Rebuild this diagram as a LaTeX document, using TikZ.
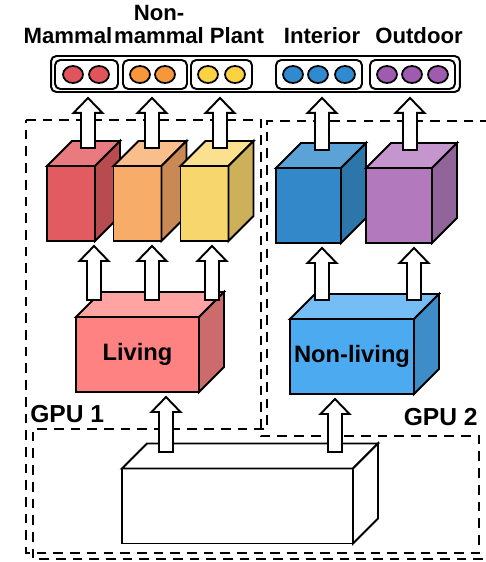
\documentclass[tikz,border=0pt]{standalone}
\usepackage{fontspec}
\setmainfont{Liberation Sans}
\usepackage{tikz}
\usetikzlibrary{calc}
\definecolor{mamfront}{HTML}{E25B61}
\definecolor{mamtop}{HTML}{E97A80}
\definecolor{mamside}{HTML}{B84B50}
\definecolor{nmfront}{HTML}{F7AC6A}
\definecolor{nmtop}{HTML}{F9BE8B}
\definecolor{nmside}{HTML}{C98955}
\definecolor{plfront}{HTML}{F8D66E}
\definecolor{pltop}{HTML}{FAE08F}
\definecolor{plside}{HTML}{CCB05A}
\definecolor{infront}{HTML}{3288C8}
\definecolor{intop}{HTML}{5BA3D6}
\definecolor{inside}{HTML}{2D76AA}
\definecolor{odfront}{HTML}{B279BC}
\definecolor{odtop}{HTML}{C595CD}
\definecolor{odside}{HTML}{91659A}
\definecolor{livfront}{HTML}{FF8282}
\definecolor{livtop}{HTML}{FFA3A3}
\definecolor{livside}{HTML}{CC6B6B}
\definecolor{nlfront}{HTML}{4BAAF0}
\definecolor{nltop}{HTML}{74BEF5}
\definecolor{nlside}{HTML}{3E8CC8}
\definecolor{dotred}{HTML}{E0545B}
\definecolor{dotorange}{HTML}{F7963A}
\definecolor{dotyellow}{HTML}{FDD240}
\definecolor{dotblue}{HTML}{2F8AD0}
\definecolor{dotpurple}{HTML}{9E5BB0}
\tikzset{
    face/.style={draw=black, line width=1.1pt},
    front/.style={face, rectangle, outer sep=0pt, inner sep=0pt, minimum height=1.5cm,
        font=\fontsize{13.5}{15}\selectfont\bfseries},
    blockarr/.style={draw=black, fill=white, line width=1.1pt},
    gpuline/.style={line width=1.1pt, dash pattern=on 5.5pt off 4pt},
    labelbox/.style={draw=black, line width=1.1pt, rounded corners=3pt, inner sep=0pt, minimum height=0.72cm},
    groupbox/.style={draw=black, line width=1.1pt, rounded corners=3pt, inner sep=0pt, minimum height=0.58cm},
    toplabel/.style={anchor=base, inner sep=0pt, font=\fontsize{12.6}{13}\selectfont\bfseries},
    gpulabel/.style={inner sep=0pt, font=\fontsize{14}{16}\selectfont\bfseries}
}
% top and side of a box whose front face is a node
\newcommand{\prism}[3]{%
    \draw[face, fill=#2] (#1.north west) -- ++(25,-25) -- ([shift={(25,-25)}]#1.north east) -- (#1.north east) -- cycle;
    \draw[face, fill=#3] (#1.north east) -- ++(25,-25) -- ([shift={(25,-25)}]#1.south east) -- (#1.south east) -- cycle;}
% hollow block arrow from a coordinate up to a node
\newcommand{\blockup}[2]{%
    \draw[blockarr] let \p1=(#1), \p2=(#2) in
    (\x1-0.14cm,\y1) -- (\x1-0.14cm,\y2-0.4cm) -- (\x1-0.29cm,\y2-0.4cm) -- (\x1,\y2-0.1cm)
    -- (\x1+0.29cm,\y2-0.4cm) -- (\x1+0.14cm,\y2-0.4cm) -- (\x1+0.14cm,\y1) -- cycle;}

\begin{document}
\begin{tikzpicture}[x=0.02cm,y=-0.02cm]
    \useasboundingbox (0,0) rectangle (485,562);
    % GPU regions
    \draw[gpuline] (26,120) -- (261,120) -- (261,436) -- (479,436) -- (479,553) -- (26,553) -- cycle;
    \draw[gpuline] (490,121) -- (267,121) -- (267,429) -- (33,429) -- (33,559) -- (490,559);
    \node[gpulabel, anchor=base west] at (30,422) (9c1e02aa) {GPU 1};
    \node[gpulabel, anchor=base east] at (478,425) (9c1e02ab) {GPU 2};

    % outputs
    \node[labelbox, minimum width=8.18cm] at (255.5,74) (a31f7c04) {};
    \node[groupbox, minimum width=1.26cm] at (86.5,74.5) (b0e25d11) {};
    \node[groupbox, minimum width=1.28cm] at (155,74.5) (b0e25d12) {};
    \node[groupbox, minimum width=1.22cm] at (221.5,74.5) (b0e25d13) {};
    \node[groupbox, minimum width=1.72cm] at (319,74.5) (b0e25d14) {};
    \node[groupbox, minimum width=1.70cm] at (412.5,74.5) (b0e25d15) {};
    \foreach \cx/\col in {73/dotred,99/dotred,140/dotorange,165/dotorange,208/dotyellow,235/dotyellow,
        293/dotblue,318/dotblue,345/dotblue,387/dotpurple,412/dotpurple,438/dotpurple}
        \draw[line width=1pt, fill=\col] (\cx,74.5) ellipse [x radius=10, y radius=8.5];
    \node[toplabel] at (68,43) (c6d8e301) {Mammal};
    \node[toplabel, align=center] at (159,43) (c6d8e302) {Non-\\mammal};
    \node[toplabel] at (237,43) (c6d8e303) {Plant};
    \node[toplabel] at (322,43) (c6d8e304) {Interior};
    \node[toplabel] at (419,43) (c6d8e305) {Outdoor};

    % fine level
    \node[front, minimum width=0.96cm, fill=mamfront] at (71,203.5) (d4a09b21) {};
    \prism{d4a09b21}{mamtop}{mamside}
    \node[front, minimum width=0.96cm, fill=nmfront] at (137.5,203.5) (d4a09b22) {};
    \prism{d4a09b22}{nmtop}{nmside}
    \node[front, minimum width=0.96cm, fill=plfront] at (204.5,203.5) (d4a09b23) {};
    \prism{d4a09b23}{pltop}{plside}
    \node[front, minimum width=1.3cm, fill=infront] at (308.5,205.5) (d4a09b24) {};
    \prism{d4a09b24}{intop}{inside}
    \node[front, minimum width=1.32cm, fill=odfront] at (399,205.5) (d4a09b25) {};
    \prism{d4a09b25}{odtop}{odside}

    % coarse level
    \node[front, minimum width=2.46cm, fill=livfront] at (137.5,354.5) (e7c2f410) {Living};
    \prism{e7c2f410}{livtop}{livside}
    \node[front, minimum width=2.48cm, fill=nlfront] at (352,356.5) (e7c2f411) {Non-living};
    \prism{e7c2f411}{nltop}{nlside}

    % shared trunk
    \node[front, minimum width=4.62cm, fill=white] at (237.5,506) (f51a0c3e) {};
    \prism{f51a0c3e}{white}{white}

    \coordinate (0a11) at (166,452);
    \coordinate (0a12) at (335,452);
    \blockup{0a11}{e7c2f410.south}
    \blockup{0a12}{e7c2f411.south}
    \coordinate (0b21) at (94,300);
    \coordinate (0b22) at (152,300);
    \coordinate (0b23) at (212,300);
    \coordinate (0b24) at (322,300);
    \coordinate (0b25) at (414,300);
    \blockup{0b21}{d4a09b21.south}
    \blockup{0b22}{d4a09b22.south}
    \blockup{0b23}{d4a09b23.south}
    \blockup{0b24}{d4a09b24.south}
    \blockup{0b25}{d4a09b25.south}
    \coordinate (0c31) at (88,148);
    \coordinate (0c32) at (152,148);
    \coordinate (0c33) at (220,148);
    \coordinate (0c34) at (322,150);
    \coordinate (0c35) at (410,150);
    \blockup{0c31}{a31f7c04.south}
    \blockup{0c32}{a31f7c04.south}
    \blockup{0c33}{a31f7c04.south}
    \blockup{0c34}{a31f7c04.south}
    \blockup{0c35}{a31f7c04.south}
\end{tikzpicture}
\end{document}
